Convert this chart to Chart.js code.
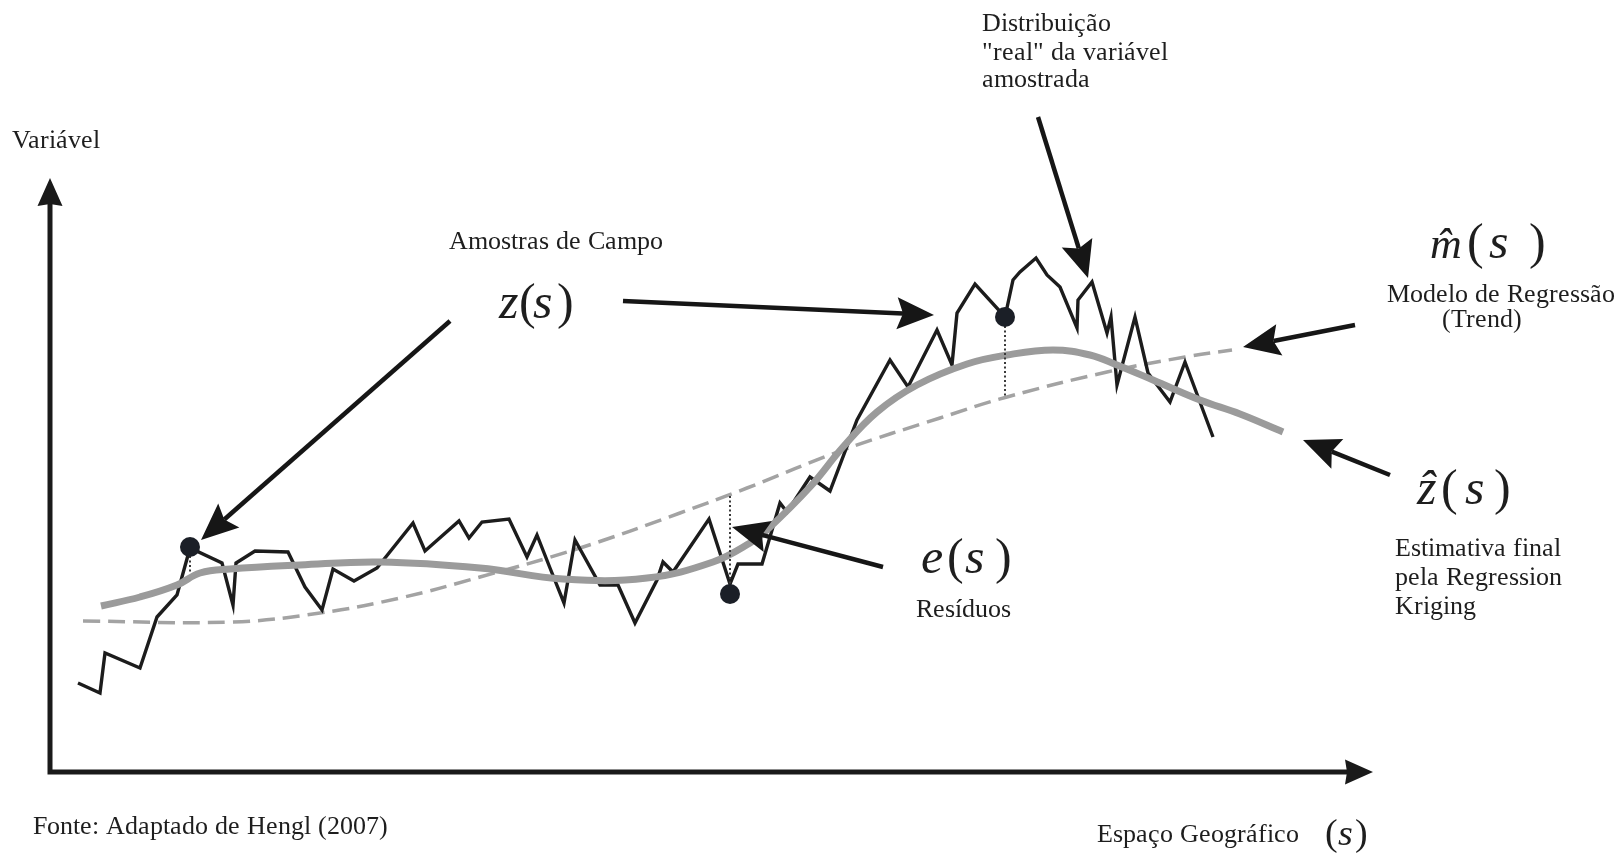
<!DOCTYPE html>
<html>
<head>
<meta charset="utf-8">
<script src="https://cdn.jsdelivr.net/npm/chart.js@4/dist/chart.umd.min.js"></script>
<style>
  @font-face {
    font-family: 'FigSerif';
    font-style: normal;
    font-weight: 400;
    src: local('Liberation Serif'), local('LiberationSerif'), local('LiberationSerif-Regular'),
         local('Times New Roman'), local('TimesNewRomanPSMT'), local('Tinos'), local('Tinos-Regular'),
         local('DejaVu Serif'), local('DejaVuSerif'), local('Noto Serif'), local('NotoSerif-Regular');
  }
  @font-face {
    font-family: 'FigSerif';
    font-style: italic;
    font-weight: 400;
    src: local('Liberation Serif Italic'), local('LiberationSerif-Italic'),
         local('Times New Roman Italic'), local('TimesNewRomanPS-ItalicMT'), local('Tinos Italic'), local('Tinos-Italic'),
         local('DejaVu Serif Italic'), local('DejaVuSerif-Italic'), local('Noto Serif Italic'), local('NotoSerif-Italic');
  }
  html, body { margin: 0; padding: 0; background: #ffffff; }
  #wrap { width: 1623px; height: 854px; position: relative; }
  .fontwarm { position: absolute; left: -9999px; top: 0; font-family: FigSerif, "Liberation Serif", "DejaVu Serif", serif; font-size: 25px; }
  .fontwarm i { font-style: italic; }
</style>
</head>
<body>
<div class="fontwarm" aria-hidden="true">Aa <i>zs</i></div>
<div id="wrap"><canvas id="rk" width="1623" height="854"></canvas></div>
<script>
// Geographic position s (x) and sampled variable z(s) (y), origin at the axes corner
const samplePos = [28, 50, 55, 90, 107, 127, 140, 172, 183, 186, 205, 238, 255, 272, 283, 304, 327,
  363, 375, 409, 419, 432, 459, 477, 487, 500, 514, 525, 550, 568, 585, 607, 613, 623, 659, 680,
  688, 712, 730, 737, 760, 780, 807, 840, 858, 887, 902, 907, 925, 955, 963, 970, 986, 997, 1010,
  1027, 1028, 1042, 1057, 1061, 1067, 1085, 1098, 1120, 1135, 1163];
const sampleVal = [89, 79, 119, 104, 155, 177, 224, 209, 167, 209, 221, 220, 185, 162, 203, 191, 204,
  249, 221, 251, 234, 250, 253, 215, 237, 204, 169, 232, 187, 187, 149, 192, 210, 200, 253, 188,
  208, 208, 269, 260, 295, 281, 352, 412, 385, 442, 407, 459, 488, 455, 492, 500, 514, 497, 485,
  444, 472, 490, 439, 455, 387, 455, 399, 370, 410, 335];

// Regression trend m^(s)
const trendPos = [33, 183, 270, 350, 430, 530, 630, 697, 793, 890, 957, 1057, 1135, 1182];
const trendVal = [151, 150, 159, 174, 195, 224, 259, 284, 322, 354, 375, 400, 415, 422];

// Final regression-kriging estimate z^(s)
const rkPos = [51, 90, 127, 150, 180, 250, 330, 430, 513, 597, 663, 700, 717, 760, 793, 827, 867,
  917, 957, 1003, 1040, 1067, 1103, 1150, 1190, 1233];
const rkVal = [166, 175, 187, 199, 203, 207, 210, 204, 193, 194, 210, 229, 242, 285, 325, 360, 387,
  408, 417, 422, 417, 407, 392, 372, 358, 340];

// Field samples (dots) and their residual segments e(s)
const fieldPos = [140, 680, 955];
const fieldVal = [225, 178, 455];
const residTop = [225, 276, 455];
const residBottom = [200, 178, 374];

const pts = (xs, ys) => xs.map((x, i) => ({ x: x, y: ys[i] }));

const residualSets = fieldPos.map((x, i) => ({
  type: 'line',
  data: [{ x: x, y: residTop[i] }, { x: x, y: residBottom[i] }],
  borderColor: '#3a3a3a',
  borderWidth: 2,
  borderDash: [2, 2.5],
  pointRadius: 0,
  order: 2
}));

// Callout arrows: [fromX, fromY, toX, toY] in chart units
const arrows = [
  [400, 451, 151, 232],
  [573, 471, 884, 457],
  [988, 655, 1038, 494],
  [1305, 447, 1193, 425],
  [1340, 297, 1253, 332],
  [833, 205, 682, 245]
];

// Plain text labels: [text, x, baselineY, size]
const labels = [
  ['Variável', -38, 624, 25.6],
  ['Amostras de Campo', 399, 523, 25.6],
  ['Distribuição', 932, 741, 25.6],
  ['"real" da variável', 932, 712, 25.6],
  ['amostrada', 932, 685, 25.6],
  ['Modelo de Regressão', 1337, 470, 25.6],
  ['(Trend)', 1392, 445, 25.6],
  ['Estimativa final', 1345, 216, 25.6],
  ['pela Regression', 1345, 187, 25.6],
  ['Kriging', 1345, 158, 25.6],
  ['Resíduos', 866, 155, 25.6],
  ['Fonte: Adaptado de Hengl (2007)', -17, -62, 25.6],
  ['Espaço Geográfico', 1047, -70, 25.6]
];

// Math symbols: pieces [text, italic, x, size], baseline y
const mathLabels = [
  { y: 454, pieces: [['z', true, 449, 50], ['(', false, 469, 50], ['s', true, 483, 50], [')', false, 507, 50]] },
  { y: 514, pieces: [['m\u0302', true, 1380, 44], ['(', false, 1417, 50], ['s', true, 1439, 50], [')', false, 1479, 50]] },
  { y: 268, pieces: [['z\u0302', true, 1367, 50], ['(', false, 1391, 50], ['s', true, 1415, 50], [')', false, 1444, 50]] },
  { y: 199, pieces: [['e', true, 871, 50], ['(', false, 897, 50], ['s', true, 915, 50], [')', false, 945, 50]] },
  { y: -73, pieces: [['(', false, 1275, 38], ['s', true, 1288, 38], [')', false, 1305, 38]] }
];

// Axis extents in chart units
const axisTipY = 594;
const axisTipX = 1323;

const SERIF = 'FigSerif, "Liberation Serif", "DejaVu Serif", serif';

function arrowHead(ctx, x0, y0, x1, y1, len, half, notch) {
  const a = Math.atan2(y1 - y0, x1 - x0);
  const c = Math.cos(a), s = Math.sin(a);
  const bx = x1 - len * c, by = y1 - len * s;
  ctx.beginPath();
  ctx.moveTo(x1, y1);
  ctx.lineTo(bx - half * s, by + half * c);
  ctx.lineTo(bx + notch * c, by + notch * s);
  ctx.lineTo(bx + half * s, by - half * c);
  ctx.closePath();
  ctx.fill();
  return [bx + notch * c, by + notch * s];
}

const diagramPlugin = {
  id: 'diagram',
  beforeDatasetsDraw(chart) {
    const ctx = chart.ctx, xs = chart.scales.x, ys = chart.scales.y;
    const ox = xs.getPixelForValue(0), oy = ys.getPixelForValue(0);
    const ty = ys.getPixelForValue(axisTipY), tx = xs.getPixelForValue(axisTipX);
    ctx.save();
    ctx.strokeStyle = '#1a1a1a';
    ctx.fillStyle = '#1a1a1a';
    ctx.lineWidth = 5;
    ctx.lineJoin = 'miter';
    ctx.lineCap = 'butt';
    ctx.beginPath();
    ctx.moveTo(ox, ty + 20);
    ctx.lineTo(ox, oy);
    ctx.lineTo(tx - 20, oy);
    ctx.stroke();
    arrowHead(ctx, ox, oy, ox, ty, 28, 12.5, 2);
    arrowHead(ctx, ox, oy, tx, oy, 28, 12.5, 2);
    ctx.restore();
  },
  afterDatasetsDraw(chart) {
    const ctx = chart.ctx, xs = chart.scales.x, ys = chart.scales.y;
    const X = v => xs.getPixelForValue(v), Y = v => ys.getPixelForValue(v);
    ctx.save();
    ctx.strokeStyle = '#161616';
    ctx.fillStyle = '#161616';
    ctx.lineWidth = 4.5;
    ctx.lineCap = 'butt';
    arrows.forEach(([fx, fy, tx, ty]) => {
      const x0 = X(fx), y0 = Y(fy), x1 = X(tx), y1 = Y(ty);
      const base = arrowHead(ctx, x0, y0, x1, y1, 37, 16, 6);
      ctx.beginPath();
      ctx.moveTo(x0, y0);
      ctx.lineTo(base[0], base[1]);
      ctx.stroke();
    });
    ctx.fillStyle = '#1e1e1e';
    ctx.textBaseline = 'alphabetic';
    ctx.textAlign = 'left';
    labels.forEach(([t, x, y, size]) => {
      ctx.font = size + 'px ' + SERIF;
      ctx.fillText(t, X(x), Y(y));
    });
    mathLabels.forEach(m => {
      m.pieces.forEach(([t, it, x, size]) => {
        ctx.font = (it ? 'italic ' : '') + size + 'px ' + SERIF;
        ctx.fillText(t, X(x), Y(m.y));
      });
    });
    ctx.restore();
  }
};

const chart = new Chart(document.getElementById('rk'), {
  type: 'line',
  data: {
    datasets: [
      {
        data: pts(fieldPos, fieldVal),
        showLine: false,
        pointRadius: 10,
        pointBackgroundColor: '#1b1f27',
        pointBorderWidth: 0,
        order: 1
      },
      ...residualSets,
      {
        data: pts(rkPos, rkVal),
        borderColor: '#9b9b9b',
        borderWidth: 7,
        tension: 0.4,
        borderCapStyle: 'butt',
        pointRadius: 0,
        order: 3
      },
      {
        data: pts(samplePos, sampleVal),
        borderColor: '#1c1c1c',
        borderWidth: 3.4,
        tension: 0,
        borderJoinStyle: 'miter',
        pointRadius: 0,
        order: 4
      },
      {
        data: pts(trendPos, trendVal),
        borderColor: '#a3a3a3',
        borderWidth: 3.5,
        borderDash: [17, 8],
        tension: 0.4,
        pointRadius: 0,
        order: 5
      }
    ]
  },
  options: {
    responsive: false,
    devicePixelRatio: 1,
    animation: false,
    events: [],
    layout: { autoPadding: false, padding: { left: 50, right: 0, top: 0, bottom: 82 } },
    scales: {
      x: { type: 'linear', min: 0, max: 1573, display: false },
      y: { type: 'linear', min: 0, max: 772, display: false }
    },
    plugins: { legend: { display: false }, tooltip: { enabled: false } }
  },
  plugins: [diagramPlugin]
});

// Redraw once the serif faces are ready so the labels use them
if (document.fonts) {
  Promise.all([
    document.fonts.load('25px FigSerif'),
    document.fonts.load('italic 50px FigSerif')
  ]).then(() => chart.draw()).catch(() => {});
  document.fonts.ready.then(() => chart.draw());
}
</script>
</body>
</html>
